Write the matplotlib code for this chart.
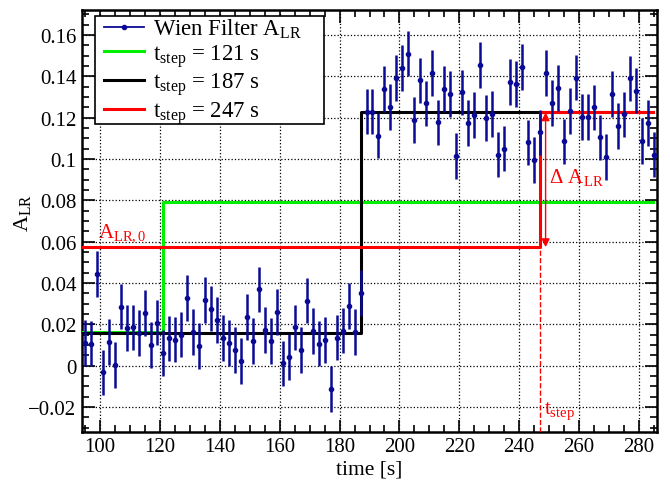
import numpy as np
import matplotlib.pyplot as plt
from matplotlib.ticker import MultipleLocator
from matplotlib.lines import Line2D
from matplotlib.patches import Rectangle

plt.rcParams['font.family'] = ['Liberation Serif', 'DejaVu Serif']
plt.rcParams['mathtext.fontset'] = 'custom'
plt.rcParams['mathtext.rm'] = 'Liberation Serif'
plt.rcParams['mathtext.it'] = 'Liberation Serif'

# measured asymmetry, one point every 2 s from 95 s to 285 s
time = np.arange(95, 286, 2)
a_lr = [0.0109, 0.0106, 0.0442, -0.0033, 0.0114, 0.0003, 0.0285, 0.0182, 0.0185, 0.0158,
        0.0254, 0.0099, 0.0208, 0.0060, 0.0132, 0.0125, 0.0150, 0.0327, 0.0163, 0.0094,
        0.0317, 0.0275, 0.0220, 0.0133, 0.0109, 0.0076, 0.0023, 0.0236, 0.0119, 0.0369,
        0.0172, 0.0120, 0.0260, 0.0011, 0.0041, 0.0185, 0.0076, 0.0314, 0.0167, 0.0106,
        0.0124, -0.0114, 0.0135, 0.0169, 0.0288, 0.0163, 0.0351,
        0.1228, 0.1228, 0.1112, 0.1338, 0.1252, 0.1392, 0.1439, 0.1509, 0.1187, 0.1380,
        0.1268, 0.1416, 0.1177, 0.1337, 0.1315, 0.1015, 0.1322, 0.1174, 0.1213, 0.1455,
        0.1197, 0.1216, 0.1020, 0.1049, 0.1371, 0.1363, 0.1444, 0.1080, 0.0995, 0.1128,
        0.1416, 0.1270, 0.1343, 0.1085, 0.1231, 0.1393, 0.1202, 0.1202, 0.1249, 0.1104,
        0.1010, 0.1314, 0.1158, 0.1215, 0.1389, 0.1330, 0.1086, 0.1174, 0.1021]
a_err = 0.011

# step fits
t_steps = [121, 187, 247]
low = [0.016, 0.0158, 0.0573]
high = [0.0791, 0.1225, 0.1225]
colors = ['#00ee00', 'black', 'red']
t_start, t_end = 94, 284.5

blue = '#0a0a96'

fig = plt.figure(figsize=(6.7, 4.81), dpi=100)
ax = fig.add_axes([0.1224, 0.1004, 0.8582, 0.8766])

handles = []
for ts, lo, hi, c in zip(t_steps, low, high, colors):
    h, = ax.plot([t_start, ts, ts, t_end], [lo, lo, hi, hi], color=c, lw=2.2,
                 label=r'$\mathregular{t_{step}}$ = %d s' % ts, zorder=3)
    handles.append(h)

ax.errorbar(time, a_lr, yerr=a_err, fmt='o', ms=3, color=blue, ecolor=blue,
            elinewidth=1.8, capsize=0, zorder=4)
data_handle = Line2D([], [], color=blue, lw=1.3, marker='o', ms=3)

ax.set_xlim(94, 286)
ax.set_ylim(-0.032, 0.172)

# annotations
ax.plot([247, 247], [-0.032, low[2]], color='red', lw=1, ls='--', zorder=3)
ax.text(248.3, -0.0215, r'$\mathregular{t_{step}}$', color='red', fontsize=15, va='center')
ax.annotate('', xy=(248.8, high[2]), xytext=(248.8, low[2]),
            arrowprops=dict(arrowstyle='<|-|>', color='red', lw=1, mutation_scale=12,
                            shrinkA=0, shrinkB=0), zorder=3)
ax.text(250, 0.0915, r'$\Delta\ \mathregular{A_{LR}}$', color='red', fontsize=15, va='center')
ax.text(99.5, 0.0595, r'$\mathregular{A_{LR,0}}$', color='red', fontsize=15, va='bottom')

# ROOT-like axes
ax.xaxis.set_major_locator(MultipleLocator(20))
ax.xaxis.set_minor_locator(MultipleLocator(5))
ax.yaxis.set_major_locator(MultipleLocator(0.02))
ax.yaxis.set_minor_locator(MultipleLocator(0.005))
ax.tick_params(which='both', direction='in', top=True, right=True, labelsize=15, width=1.2, pad=4)
ax.tick_params(which='major', length=9)
ax.tick_params(which='minor', length=5)
ax.set_yticks(np.arange(-0.02, 0.17, 0.02))
ax.set_yticklabels(['\u22120.02', '0', '0.02', '0.04', '0.06', '0.08', '0.1', '0.12', '0.14', '0.16'])
ax.grid(True, which='major', ls=':', color='black', lw=0.9)
for s in ax.spines.values():
    s.set_linewidth(1.8)

ax.set_xlabel('time [s]', fontsize=15.5)
ax.xaxis.set_label_coords(0.5, -0.066)
ax.set_ylabel(r'$\mathregular{A_{LR}}$', fontsize=16)
ax.yaxis.set_label_coords(-0.085, 0.52)

# legend: fixed box like ROOT's TLegend
ax.add_patch(Rectangle((0.0226, 0.7297), 0.3983, 0.2568, transform=ax.transAxes,
                       facecolor='white', edgecolor='black', lw=1.2, zorder=4.6))
leg = ax.legend([data_handle] + handles,
                [r'Wien Filter $\mathregular{A_{LR}}$'] + [h.get_label() for h in handles],
                loc='upper left', bbox_to_anchor=(0.0383, 0.984), fontsize=16.4,
                frameon=False, borderpad=0, labelspacing=0.08,
                handlelength=1.75, handletextpad=0.4, borderaxespad=0)
leg.set_zorder(5)

fig.savefig('out.png', dpi=100)
